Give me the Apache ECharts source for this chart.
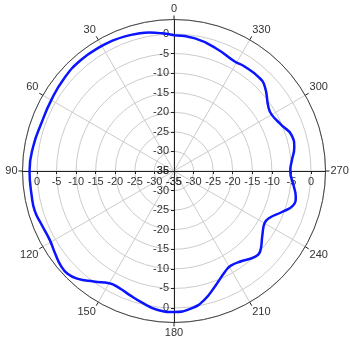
<!DOCTYPE html>
<html>
<head>
<meta charset="utf-8">
<script src="https://cdn.jsdelivr.net/npm/echarts@6/dist/echarts.min.js"></script>
<style>html,body{margin:0;padding:0;background:#fff}#c{width:350px;height:340px}</style>
</head>
<body>
<div id="c"></div>
<script>
// Data (angle in degrees, gain in dB)
var angles = [0,5,10,15,20,25,30,40,50,60,70,80,90,100,106,112,119,125,130,134,138,144,150,155,160,167,173,180,187,193,200,207,211,217,223,227,234,240,244,249,254,258,263,270,275,281,287,293,300,304,313,318,326,331,341,351,360];
var gains  = [-0.3,0.3,0.9,1.3,1.6,1.8,1.9,2.0,1.7,1.2,1.0,1.5,1.9,1.9,2.0,1.5,1.3,2.0,2.7,2.8,2.0,-0.1,-1.9,-2.0,-1.4,-0.3,0.7,1.0,0.4,-1.1,-3.9,-6.2,-6.8,-6.2,-4.9,-4.9,-7.1,-8.3,-7.8,-5.6,-3.3,-3.2,-4.2,-5.3,-4.8,-3.7,-3.6,-5.1,-6.2,-5.9,-3.3,-2.7,-2.8,-3.0,-1.9,-0.7,-0.3];
var radialTicks = [-35,-30,-25,-20,-15,-10,-5,0];
var angleTicks = [0,30,60,90,120,150,180,210,240,270,300,330];

var R_MIN = -35, R_MAX = 3.7;
var CX = 174, CY = 171, R = 151.5;

var seriesData = angles.map(function(a, i){ return [gains[i], a]; });

var labelStyle = {color:'#333', fontSize:11, fontFamily:'Liberation Sans, Arial, sans-serif'};
function radAxis(extra){
  var base = {
    type:'value', min:R_MIN, max:R_MAX,
    axisLine:{show:true, lineStyle:{color:'#222', width:1}},
    axisTick:{show:true, length:3, customValues:radialTicks, lineStyle:{color:'#222'}},
    axisLabel:Object.assign({show:true, margin:5, customValues:radialTicks}, labelStyle),
    splitLine:{show:false}
  };
  return Object.assign(base, extra);
}
function hidden(extra){ return Object.assign({type:'value', show:false, min:0, max:1}, extra); }

var chart = echarts.init(document.getElementById('c'), null, {renderer:'canvas'});
chart.setOption({
  animation:false,
  backgroundColor:'#fff',
  polar:{center:[CX, CY], radius:R},
  angleAxis:{
    type:'value', min:0, max:360, interval:30, startAngle:90, clockwise:false,
    axisLine:{show:true, lineStyle:{color:'#444', width:1}},
    axisTick:{show:true, length:4, lineStyle:{color:'#222'}},
    axisLabel:Object.assign({margin:5, customValues:angleTicks}, labelStyle),
    splitLine:{show:true, lineStyle:{color:'#cccccc', width:1}}
  },
  radiusAxis:{
    type:'value', min:R_MIN, max:R_MAX, interval:5,
    axisLine:{show:false}, axisTick:{show:false}, axisLabel:{show:false},
    splitLine:{show:true, lineStyle:{color:'#cccccc', width:1}}
  },
  grid:[
    {left:CX - R, width:R, top:CY - 1, height:1},
    {left:CX, width:R, top:CY - 1, height:1},
    {left:CX, width:1, top:CY - R, height:R},
    {left:CX, width:1, top:CY, height:R}
  ],
  xAxis:[
    radAxis({gridIndex:0, inverse:true, position:'bottom'}),
    radAxis({gridIndex:1, position:'bottom'}),
    hidden({gridIndex:2}),
    hidden({gridIndex:3})
  ],
  yAxis:[
    hidden({gridIndex:0}),
    hidden({gridIndex:1}),
    radAxis({gridIndex:2, position:'left'}),
    radAxis({gridIndex:3, position:'left', inverse:true})
  ],
  series:[{
    type:'line', coordinateSystem:'polar', data:seriesData,
    smooth:true, symbol:'none',
    lineStyle:{color:'#0a14ff', width:2.5}, z:10
  }]
});
</script>
</body>
</html>
